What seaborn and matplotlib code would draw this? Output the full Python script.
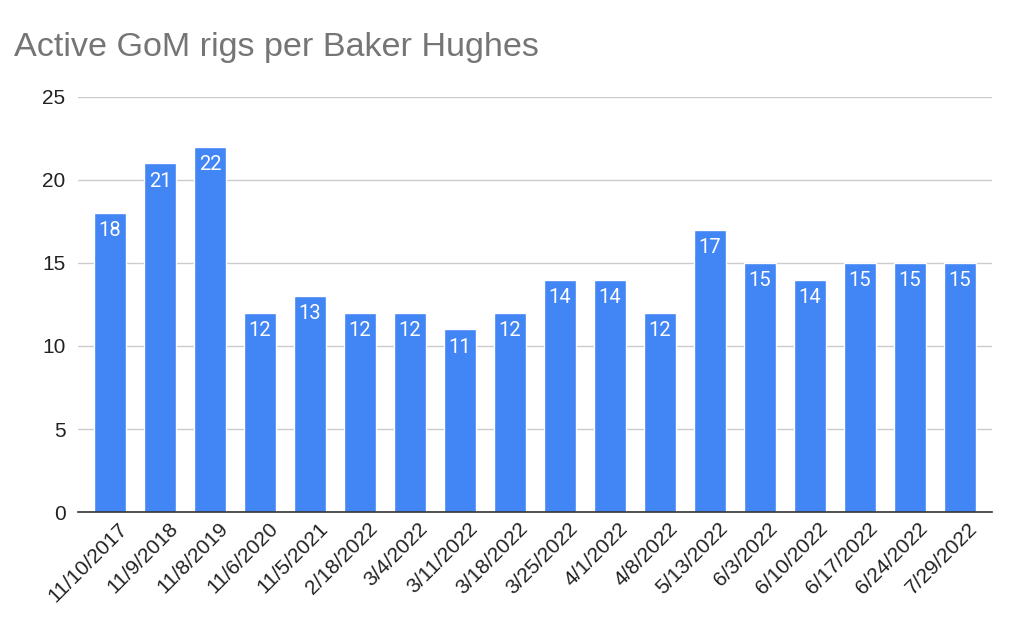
import pandas as pd
import seaborn as sns
import matplotlib.pyplot as plt
import matplotlib.transforms as mtransforms

# report dates and active Gulf of Mexico rigs
dates = ['11/10/2017', '11/9/2018', '11/8/2019', '11/6/2020', '11/5/2021',
         '2/18/2022', '3/4/2022', '3/11/2022', '3/18/2022', '3/25/2022',
         '4/1/2022', '4/8/2022', '5/13/2022', '6/3/2022', '6/10/2022',
         '6/17/2022', '6/24/2022', '7/29/2022']
rigs = [18, 21, 22, 12, 13, 12, 12, 11, 12, 14, 14, 12, 17, 15, 14, 15, 15, 15]
yticks = [0, 5, 10, 15, 20, 25]

df = pd.DataFrame({'date': dates, 'rigs': rigs})

sns.set_theme(style='white')
plt.rcParams['font.family'] = ['Liberation Sans', 'DejaVu Sans']

fig = plt.figure(figsize=(10.24, 6.33), dpi=100)
ax = fig.add_axes([0.0762, 0.191, 0.8926, 0.656])

sns.barplot(data=df, x='date', y='rigs', color='#4285F4', saturation=1,
            width=0.64, ax=ax, zorder=3)

# value labels inside the top of each bar
for i, v in enumerate(rigs):
    ax.text(i, v - 0.5, str(v), ha='center', va='top', color='white',
            fontsize=14.5, family=['Roboto', 'DejaVu Sans'], zorder=4)

ax.set_xlim(-0.64, len(dates) - 1 + 0.64)
ax.set_ylim(0, 25)
ax.set_yticks(yticks)
ax.yaxis.grid(True, color='#cccccc', linewidth=1, zorder=0)
ax.set_xlabel('')
ax.set_ylabel('')
for s in ['top', 'right', 'left']:
    ax.spines[s].set_visible(False)
ax.spines['bottom'].set_color('#333333')
ax.spines['bottom'].set_linewidth(1.2)
ax.spines['bottom'].set_zorder(5)

ax.tick_params(axis='y', length=0, pad=9, labelsize=15, labelcolor='#222222')
ax.tick_params(axis='x', length=0, pad=5, labelsize=15, labelcolor='#222222')
plt.setp(ax.get_xticklabels(), rotation=45, ha='right', rotation_mode='anchor')
# nudge rotated labels a bit to the right, like the original
shift = mtransforms.ScaledTranslation(8 / 100, 0, fig.dpi_scale_trans)
for lab in ax.get_xticklabels():
    lab.set_transform(lab.get_transform() + shift)

fig.text(0.0137, 0.925, 'Active GoM rigs per Baker Hughes', fontsize=24.6,
         color='#757575', ha='left', va='center')

plt.savefig('out.png', dpi=100)
